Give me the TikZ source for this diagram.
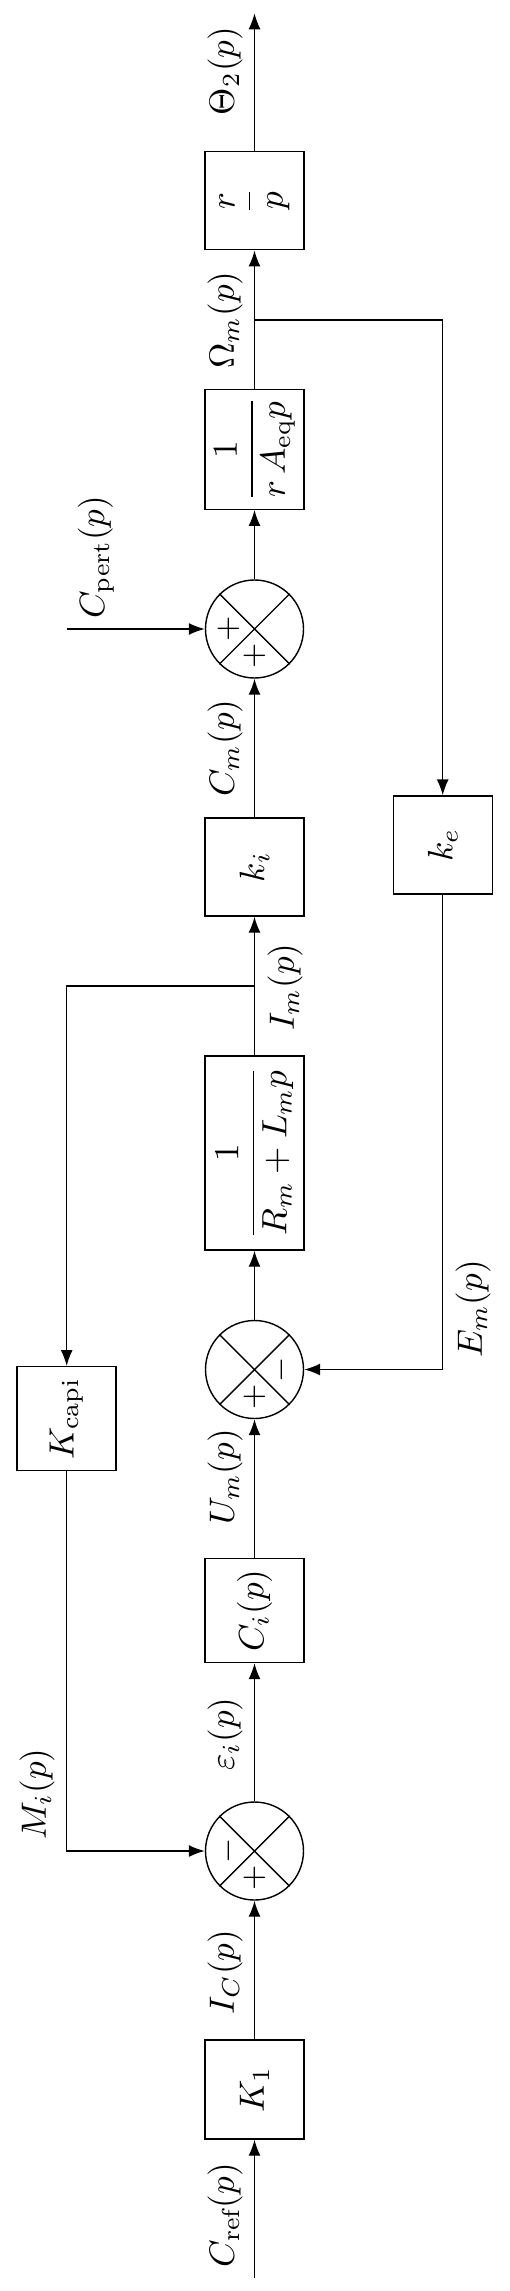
\documentclass[tikz,border=0pt]{standalone}
\usepackage{amsmath}
\usetikzlibrary{arrows.meta,calc}
\tikzset{
 blk/.style={draw, minimum width=9.9mm, inner sep=0pt},
 sumc/.style={draw, circle, minimum size=9.8mm, inner sep=0pt},
 lbl/.style={rotate=90, inner sep=0pt},
 sgn/.style={rotate=90, inner sep=0pt, font=\small},
 arr/.style={-{Latex[length=1.6mm,width=1.2mm]}},
}
\newcommand{\rt}[1]{\rotatebox{90}{#1}}
\begin{document}
\begin{tikzpicture}[x=0.1mm,y=-0.1mm]
\useasboundingbox (0,0) rectangle (509,2291);
% blocks
\node[blk, minimum height=9.9mm] (K1) at (254.5,2089.5) {\rt{$K_1$}};
\node[blk, minimum height=10.4mm] (Ci) at (254.5,1610.5) {\rt{$C_i(p)$}};
\node[blk, minimum height=19.4mm] (G1) at (254.5,1153) {\rt{$\dfrac{1}{R_m+L_m p}$}};
\node[blk, minimum height=9.8mm] (ki) at (254.5,867) {\rt{$k_i$}};
\node[blk, minimum height=12mm] (G2) at (254.5,449.3) {\rt{$\dfrac{1}{r\,A_{\text{eq}}p}$}};
\node[blk, minimum height=9.8mm] (G3) at (254.5,200.8) {\rt{$\dfrac{r}{p}$}};
\node[blk, minimum height=9.8mm] (ke) at (442.7,845) {\rt{$k_e$}};
\node[blk, minimum height=10.4mm] (Kc) at (66.7,1418.7) {\rt{$K_{\text{capi}}$}};
% summing junctions
\node[sumc] (s1) at (254.5,1851) {};
\node[sumc] (s2) at (254.5,1369.5) {};
\node[sumc] (s3) at (254.5,629) {};
\foreach \s in {s1,s2,s3}{
  \draw (\s.45) -- (\s.225) (\s.135) -- (\s.315);
}
\node[sgn] (s1a) at ($(s1)+(-26,0)$) {$-$};
\node[sgn] (s1b) at ($(s1)+(0,27)$) {$+$};
\node[sgn] (s2a) at ($(s2)+(27,0)$) {$-$};
\node[sgn] (s2b) at ($(s2)+(0,27)$) {$+$};
\node[sgn] (s3a) at ($(s3)+(-26,0)$) {$+$};
\node[sgn] (s3b) at ($(s3)+(0,27)$) {$+$};
% coordinates
\coordinate (in) at (254.5,2278);
\coordinate (out) at (254.5,13.3);
\coordinate (b1) at (254.5,986);
\coordinate (b2) at (254.5,320);
\coordinate (pert) at (66.7,629);
% connectors
\draw[arr] (in) -- (K1);
\draw[arr] (K1) -- (s1);
\draw[arr] (s1) -- (Ci);
\draw[arr] (Ci) -- (s2);
\draw[arr] (s2) -- (G1);
\draw[arr] (G1) -- (ki);
\draw[arr] (ki) -- (s3);
\draw[arr] (s3) -- (G2);
\draw[arr] (G2) -- (G3);
\draw[arr] (G3) -- (out);
\draw[arr] (b1) -| (Kc);
\draw[arr] (Kc) |- (s1);
\draw[arr] (b2) -| (ke);
\draw[arr] (ke) |- (s2);
\draw[arr] (pert) -- (s3);
% labels
\node[lbl] (lCref) at (225,2215) {$C_{\text{ref}}(p)$};
\node[lbl] (lIC) at (225,1972) {$I_C(p)$};
\node[lbl] (leps) at (225,1734) {$\varepsilon_i(p)$};
\node[lbl] (lMi) at (37,1794) {$M_i(p)$};
\node[lbl] (lUm) at (225,1477) {$U_m(p)$};
\node[lbl] (lEm) at (473,1309) {$E_m(p)$};
\node[lbl] (lIm) at (285,987) {$I_m(p)$};
\node[lbl] (lCm) at (225,748) {$C_m(p)$};
\node[lbl] (lCp) at (96,557) {$C_{\text{pert}}(p)$};
\node[lbl] (lOm) at (225,320) {$\Omega_m(p)$};
\node[lbl] (lTh) at (225,71) {$\Theta_2(p)$};
\end{tikzpicture}
\end{document}
